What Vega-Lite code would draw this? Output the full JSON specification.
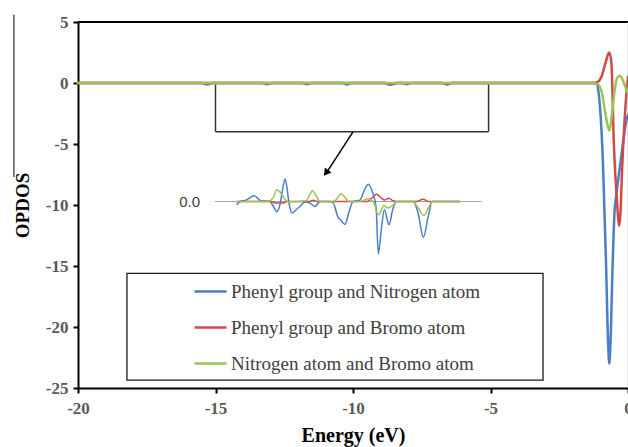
{
  "$schema": "https://vega.github.io/schema/vega-lite/v6.json",
  "width": 550,
  "height": 366,
  "autosize": {"type": "none"},
  "padding": {"left": 78, "top": 22, "right": 0, "bottom": 59},
  "background": "white",
  "config": {"view": {"stroke": null}},
  "datasets": {
    "main": [
      {"series": "Phenyl group and Nitrogen atom", "e": -20, "v": 0},
      {"series": "Phenyl group and Nitrogen atom", "e": -15.5, "v": 0},
      {"series": "Phenyl group and Nitrogen atom", "e": -15.3, "v": -0.12},
      {"series": "Phenyl group and Nitrogen atom", "e": -15.1, "v": 0},
      {"series": "Phenyl group and Nitrogen atom", "e": -13.3, "v": 0},
      {"series": "Phenyl group and Nitrogen atom", "e": -13.13, "v": -0.1},
      {"series": "Phenyl group and Nitrogen atom", "e": -12.95, "v": 0},
      {"series": "Phenyl group and Nitrogen atom", "e": -11.85, "v": 0},
      {"series": "Phenyl group and Nitrogen atom", "e": -11.67, "v": -0.1},
      {"series": "Phenyl group and Nitrogen atom", "e": -11.5, "v": 0},
      {"series": "Phenyl group and Nitrogen atom", "e": -10.4, "v": 0},
      {"series": "Phenyl group and Nitrogen atom", "e": -10.22, "v": -0.12},
      {"series": "Phenyl group and Nitrogen atom", "e": -10.05, "v": 0},
      {"series": "Phenyl group and Nitrogen atom", "e": -8.85, "v": 0},
      {"series": "Phenyl group and Nitrogen atom", "e": -8.65, "v": -0.15},
      {"series": "Phenyl group and Nitrogen atom", "e": -8.35, "v": 0},
      {"series": "Phenyl group and Nitrogen atom", "e": -8.2, "v": 0},
      {"series": "Phenyl group and Nitrogen atom", "e": -8.04, "v": -0.1},
      {"series": "Phenyl group and Nitrogen atom", "e": -7.9, "v": 0},
      {"series": "Phenyl group and Nitrogen atom", "e": -6.75, "v": 0},
      {"series": "Phenyl group and Nitrogen atom", "e": -6.58, "v": -0.12},
      {"series": "Phenyl group and Nitrogen atom", "e": -6.4, "v": 0},
      {"series": "Phenyl group and Nitrogen atom", "e": -1.3, "v": 0},
      {"series": "Phenyl group and Nitrogen atom", "e": -1.15, "v": -0.05},
      {"series": "Phenyl group and Nitrogen atom", "e": -1.08, "v": -0.6},
      {"series": "Phenyl group and Nitrogen atom", "e": -0.91, "v": -6.6},
      {"series": "Phenyl group and Nitrogen atom", "e": -0.8, "v": -14.7},
      {"series": "Phenyl group and Nitrogen atom", "e": -0.72, "v": -21.5},
      {"series": "Phenyl group and Nitrogen atom", "e": -0.68, "v": -23.0},
      {"series": "Phenyl group and Nitrogen atom", "e": -0.64, "v": -21.5},
      {"series": "Phenyl group and Nitrogen atom", "e": -0.56, "v": -15.0},
      {"series": "Phenyl group and Nitrogen atom", "e": -0.48, "v": -10.2},
      {"series": "Phenyl group and Nitrogen atom", "e": -0.45, "v": -9.6},
      {"series": "Phenyl group and Nitrogen atom", "e": -0.3, "v": -7.0},
      {"series": "Phenyl group and Nitrogen atom", "e": -0.05, "v": -3.0},
      {"series": "Phenyl group and Nitrogen atom", "e": 0, "v": -2.6},
      {"series": "Phenyl group and Bromo atom", "e": -20, "v": 0},
      {"series": "Phenyl group and Bromo atom", "e": -8.85, "v": 0},
      {"series": "Phenyl group and Bromo atom", "e": -8.65, "v": -0.08},
      {"series": "Phenyl group and Bromo atom", "e": -8.45, "v": 0},
      {"series": "Phenyl group and Bromo atom", "e": -6.75, "v": 0},
      {"series": "Phenyl group and Bromo atom", "e": -6.58, "v": -0.08},
      {"series": "Phenyl group and Bromo atom", "e": -6.4, "v": 0},
      {"series": "Phenyl group and Bromo atom", "e": -1.3, "v": 0},
      {"series": "Phenyl group and Bromo atom", "e": -1.1, "v": 0.1},
      {"series": "Phenyl group and Bromo atom", "e": -0.95, "v": 0.6},
      {"series": "Phenyl group and Bromo atom", "e": -0.8, "v": 1.8},
      {"series": "Phenyl group and Bromo atom", "e": -0.69, "v": 2.5},
      {"series": "Phenyl group and Bromo atom", "e": -0.62, "v": 2.0},
      {"series": "Phenyl group and Bromo atom", "e": -0.58, "v": 0.5},
      {"series": "Phenyl group and Bromo atom", "e": -0.53, "v": -3.9},
      {"series": "Phenyl group and Bromo atom", "e": -0.41, "v": -9.3},
      {"series": "Phenyl group and Bromo atom", "e": -0.32, "v": -11.7},
      {"series": "Phenyl group and Bromo atom", "e": -0.27, "v": -10.5},
      {"series": "Phenyl group and Bromo atom", "e": -0.23, "v": -8.0},
      {"series": "Phenyl group and Bromo atom", "e": -0.11, "v": -2.5},
      {"series": "Phenyl group and Bromo atom", "e": 0, "v": 0.5},
      {"series": "Nitrogen atom and Bromo atom", "e": -20, "v": 0},
      {"series": "Nitrogen atom and Bromo atom", "e": -1.3, "v": 0},
      {"series": "Nitrogen atom and Bromo atom", "e": -1.1, "v": -0.1},
      {"series": "Nitrogen atom and Bromo atom", "e": -0.95, "v": -0.8},
      {"series": "Nitrogen atom and Bromo atom", "e": -0.8, "v": -2.8},
      {"series": "Nitrogen atom and Bromo atom", "e": -0.68, "v": -3.9},
      {"series": "Nitrogen atom and Bromo atom", "e": -0.58, "v": -2.5},
      {"series": "Nitrogen atom and Bromo atom", "e": -0.48, "v": -0.5},
      {"series": "Nitrogen atom and Bromo atom", "e": -0.4, "v": 0.4},
      {"series": "Nitrogen atom and Bromo atom", "e": -0.3, "v": 0.6},
      {"series": "Nitrogen atom and Bromo atom", "e": -0.2, "v": 0.3},
      {"series": "Nitrogen atom and Bromo atom", "e": -0.1, "v": -0.3},
      {"series": "Nitrogen atom and Bromo atom", "e": 0, "v": -0.8}
    ],
    "inset": [
      {"series": "Phenyl group and Nitrogen atom", "e": -14.23, "v": -9.98},
      {"series": "Phenyl group and Nitrogen atom", "e": -14.11, "v": -9.71},
      {"series": "Phenyl group and Nitrogen atom", "e": -13.89, "v": -9.6},
      {"series": "Phenyl group and Nitrogen atom", "e": -13.59, "v": -9.25},
      {"series": "Phenyl group and Nitrogen atom", "e": -13.35, "v": -9.65},
      {"series": "Phenyl group and Nitrogen atom", "e": -13.02, "v": -9.71},
      {"series": "Phenyl group and Nitrogen atom", "e": -12.9, "v": -10.1},
      {"series": "Phenyl group and Nitrogen atom", "e": -12.77, "v": -10.53},
      {"series": "Phenyl group and Nitrogen atom", "e": -12.65, "v": -9.9},
      {"series": "Phenyl group and Nitrogen atom", "e": -12.58, "v": -9.0},
      {"series": "Phenyl group and Nitrogen atom", "e": -12.47, "v": -7.86},
      {"series": "Phenyl group and Nitrogen atom", "e": -12.4, "v": -8.6},
      {"series": "Phenyl group and Nitrogen atom", "e": -12.33, "v": -9.8},
      {"series": "Phenyl group and Nitrogen atom", "e": -12.21, "v": -10.66},
      {"series": "Phenyl group and Nitrogen atom", "e": -12.05, "v": -10.35},
      {"series": "Phenyl group and Nitrogen atom", "e": -11.93, "v": -10.12},
      {"series": "Phenyl group and Nitrogen atom", "e": -11.75, "v": -9.75},
      {"series": "Phenyl group and Nitrogen atom", "e": -11.56, "v": -9.85},
      {"series": "Phenyl group and Nitrogen atom", "e": -11.38, "v": -10.12},
      {"series": "Phenyl group and Nitrogen atom", "e": -11.2, "v": -9.72},
      {"series": "Phenyl group and Nitrogen atom", "e": -10.9, "v": -9.72},
      {"series": "Phenyl group and Nitrogen atom", "e": -10.73, "v": -9.8},
      {"series": "Phenyl group and Nitrogen atom", "e": -10.53, "v": -11.07},
      {"series": "Phenyl group and Nitrogen atom", "e": -10.47, "v": -11.18},
      {"series": "Phenyl group and Nitrogen atom", "e": -10.29, "v": -11.59},
      {"series": "Phenyl group and Nitrogen atom", "e": -10.15, "v": -10.6},
      {"series": "Phenyl group and Nitrogen atom", "e": -10.0, "v": -9.71},
      {"series": "Phenyl group and Nitrogen atom", "e": -9.75, "v": -9.6},
      {"series": "Phenyl group and Nitrogen atom", "e": -9.55, "v": -8.6},
      {"series": "Phenyl group and Nitrogen atom", "e": -9.44, "v": -8.29},
      {"series": "Phenyl group and Nitrogen atom", "e": -9.3, "v": -8.9},
      {"series": "Phenyl group and Nitrogen atom", "e": -9.16, "v": -10.2},
      {"series": "Phenyl group and Nitrogen atom", "e": -9.08, "v": -14.01},
      {"series": "Phenyl group and Nitrogen atom", "e": -8.97, "v": -12.0},
      {"series": "Phenyl group and Nitrogen atom", "e": -8.86, "v": -10.39},
      {"series": "Phenyl group and Nitrogen atom", "e": -8.69, "v": -11.62},
      {"series": "Phenyl group and Nitrogen atom", "e": -8.55, "v": -10.3},
      {"series": "Phenyl group and Nitrogen atom", "e": -8.41, "v": -9.71},
      {"series": "Phenyl group and Nitrogen atom", "e": -7.81, "v": -9.71},
      {"series": "Phenyl group and Nitrogen atom", "e": -7.64, "v": -10.6},
      {"series": "Phenyl group and Nitrogen atom", "e": -7.44, "v": -12.65},
      {"series": "Phenyl group and Nitrogen atom", "e": -7.27, "v": -11.0},
      {"series": "Phenyl group and Nitrogen atom", "e": -7.12, "v": -9.71},
      {"series": "Phenyl group and Nitrogen atom", "e": -6.11, "v": -9.71},
      {"series": "Phenyl group and Bromo atom", "e": -14.23, "v": -9.71},
      {"series": "Phenyl group and Bromo atom", "e": -13.0, "v": -9.71},
      {"series": "Phenyl group and Bromo atom", "e": -12.8, "v": -9.84},
      {"series": "Phenyl group and Bromo atom", "e": -12.55, "v": -9.84},
      {"series": "Phenyl group and Bromo atom", "e": -12.4, "v": -9.71},
      {"series": "Phenyl group and Bromo atom", "e": -11.6, "v": -9.71},
      {"series": "Phenyl group and Bromo atom", "e": -11.45, "v": -9.62},
      {"series": "Phenyl group and Bromo atom", "e": -11.3, "v": -9.71},
      {"series": "Phenyl group and Bromo atom", "e": -9.5, "v": -9.71},
      {"series": "Phenyl group and Bromo atom", "e": -9.3, "v": -9.4},
      {"series": "Phenyl group and Bromo atom", "e": -9.14, "v": -9.11},
      {"series": "Phenyl group and Bromo atom", "e": -8.98, "v": -9.4},
      {"series": "Phenyl group and Bromo atom", "e": -8.85, "v": -9.6},
      {"series": "Phenyl group and Bromo atom", "e": -8.7, "v": -9.44},
      {"series": "Phenyl group and Bromo atom", "e": -8.55, "v": -9.65},
      {"series": "Phenyl group and Bromo atom", "e": -8.41, "v": -9.71},
      {"series": "Phenyl group and Bromo atom", "e": -7.7, "v": -9.71},
      {"series": "Phenyl group and Bromo atom", "e": -7.45, "v": -9.52},
      {"series": "Phenyl group and Bromo atom", "e": -7.25, "v": -9.71},
      {"series": "Phenyl group and Bromo atom", "e": -6.11, "v": -9.71},
      {"series": "Nitrogen atom and Bromo atom", "e": -14.23, "v": -9.71},
      {"series": "Nitrogen atom and Bromo atom", "e": -13.1, "v": -9.71},
      {"series": "Nitrogen atom and Bromo atom", "e": -12.9, "v": -9.4},
      {"series": "Nitrogen atom and Bromo atom", "e": -12.77, "v": -8.76},
      {"series": "Nitrogen atom and Bromo atom", "e": -12.6, "v": -9.1},
      {"series": "Nitrogen atom and Bromo atom", "e": -12.45, "v": -9.6},
      {"series": "Nitrogen atom and Bromo atom", "e": -12.33, "v": -9.75},
      {"series": "Nitrogen atom and Bromo atom", "e": -12.0, "v": -9.71},
      {"series": "Nitrogen atom and Bromo atom", "e": -11.7, "v": -9.65},
      {"series": "Nitrogen atom and Bromo atom", "e": -11.56, "v": -9.1},
      {"series": "Nitrogen atom and Bromo atom", "e": -11.47, "v": -8.84},
      {"series": "Nitrogen atom and Bromo atom", "e": -11.35, "v": -9.2},
      {"series": "Nitrogen atom and Bromo atom", "e": -11.2, "v": -9.71},
      {"series": "Nitrogen atom and Bromo atom", "e": -10.75, "v": -9.71},
      {"series": "Nitrogen atom and Bromo atom", "e": -10.55, "v": -9.4},
      {"series": "Nitrogen atom and Bromo atom", "e": -10.45, "v": -9.05},
      {"series": "Nitrogen atom and Bromo atom", "e": -10.3, "v": -9.35},
      {"series": "Nitrogen atom and Bromo atom", "e": -10.15, "v": -9.71},
      {"series": "Nitrogen atom and Bromo atom", "e": -9.75, "v": -9.71},
      {"series": "Nitrogen atom and Bromo atom", "e": -9.44, "v": -9.48},
      {"series": "Nitrogen atom and Bromo atom", "e": -9.25, "v": -9.75},
      {"series": "Nitrogen atom and Bromo atom", "e": -9.08, "v": -10.8},
      {"series": "Nitrogen atom and Bromo atom", "e": -8.86, "v": -10.04},
      {"series": "Nitrogen atom and Bromo atom", "e": -8.72, "v": -10.25},
      {"series": "Nitrogen atom and Bromo atom", "e": -8.55, "v": -10.0},
      {"series": "Nitrogen atom and Bromo atom", "e": -8.41, "v": -9.71},
      {"series": "Nitrogen atom and Bromo atom", "e": -7.81, "v": -9.71},
      {"series": "Nitrogen atom and Bromo atom", "e": -7.64, "v": -10.2},
      {"series": "Nitrogen atom and Bromo atom", "e": -7.42, "v": -10.86},
      {"series": "Nitrogen atom and Bromo atom", "e": -7.25, "v": -10.2},
      {"series": "Nitrogen atom and Bromo atom", "e": -7.12, "v": -9.71},
      {"series": "Nitrogen atom and Bromo atom", "e": -6.11, "v": -9.71}
    ]
  },
  "encoding": {
    "x": {
      "type": "quantitative",
      "scale": {"domain": [-20, 0], "nice": false, "zero": false},
      "axis": {
        "title": "Energy (eV)",
        "values": [-20, -15, -10, -5, 0],
        "labelExpr": "'' + datum.value",
        "grid": false,
        "domainColor": "#000", "domainWidth": 2,
        "tickColor": "#000", "tickWidth": 2, "tickSize": 5,
        "labelFont": "Liberation Serif", "labelFontWeight": "bold", "labelFontSize": 17, "labelColor": "#595959",
        "labelPadding": 7, "labelFlush": false, "labelOverlap": false,
        "titleFont": "Liberation Serif", "titleFontSize": 20, "titleFontWeight": "bold", "titleColor": "#000",
        "titlePadding": 9
      }
    },
    "y": {
      "type": "quantitative",
      "scale": {"domain": [-25, 5], "nice": false, "zero": false},
      "axis": {
        "title": "OPDOS",
        "values": [5, 0, -5, -10, -15, -20, -25],
        "labelExpr": "'' + datum.value",
        "grid": false,
        "domainColor": "#000", "domainWidth": 2,
        "tickColor": "#000", "tickWidth": 2, "tickSize": 5,
        "labelFont": "Liberation Serif", "labelFontWeight": "bold", "labelFontSize": 17, "labelColor": "#595959",
        "labelPadding": 5, "labelFlush": false, "labelOverlap": false,
        "titleFont": "Liberation Serif", "titleFontSize": 19, "titleFontWeight": "bold", "titleColor": "#000",
        "titlePadding": 13
      }
    }
  },
  "layer": [
    {
      "data": {"values": [{}]},
      "mark": {"type": "rule", "color": "#000", "strokeWidth": 2},
      "encoding": {"y": {"datum": 5}}
    },
    {
      "data": {"values": [{}]},
      "mark": {"type": "rule", "color": "#d0d0d0", "strokeWidth": 1},
      "encoding": {"x": {"datum": 0}}
    },
    {
      "data": {"values": [{}]},
      "mark": {"type": "rule", "color": "#000", "strokeWidth": 1},
      "encoding": {"x": {"datum": -22.33}, "y": {"datum": 5.6}, "y2": {"datum": -7.7}}
    },
    {
      "data": {"values": [{}]},
      "mark": {"type": "rect", "filled": false, "stroke": "#1a1a1a", "strokeWidth": 1.3},
      "encoding": {"x": {"datum": -18.22}, "x2": {"datum": -3.09}, "y": {"datum": -15.6}, "y2": {"datum": -24.35}}
    },
    {
      "data": {"values": [{}]},
      "mark": {"type": "rule", "color": "#333", "strokeWidth": 1.5},
      "encoding": {"x": {"datum": -15.0}, "y": {"datum": -0.1}, "y2": {"datum": -4.0}}
    },
    {
      "data": {"values": [{}]},
      "mark": {"type": "rule", "color": "#333", "strokeWidth": 1.5},
      "encoding": {"x": {"datum": -5.07}, "y": {"datum": -0.1}, "y2": {"datum": -4.0}}
    },
    {
      "data": {"values": [{}]},
      "mark": {"type": "rule", "color": "#333", "strokeWidth": 1.5},
      "encoding": {"x": {"datum": -15.0}, "x2": {"datum": -5.07}, "y": {"datum": -4.0}}
    },
    {
      "data": {"values": [{}]},
      "mark": {"type": "rule", "color": "#000", "strokeWidth": 1.5},
      "encoding": {"x": {"datum": -10.0}, "x2": {"datum": -10.95}, "y": {"datum": -4.0}, "y2": {"datum": -7.3}}
    },
    {
      "data": {"values": [{}]},
      "mark": {"type": "point", "shape": "triangle-up", "filled": true, "color": "#000", "size": 70, "angle": 217, "opacity": 1},
      "encoding": {"x": {"datum": -10.98}, "y": {"datum": -7.37}}
    },
    {
      "data": {"values": [{}]},
      "mark": {"type": "rule", "color": "#a6a6a6", "strokeWidth": 1.2},
      "encoding": {"x": {"datum": -15.02}, "x2": {"datum": -5.31}, "y": {"datum": -9.714}}
    },
    {
      "data": {"values": [{}]},
      "mark": {"type": "text", "text": "0.0", "align": "right", "baseline": "middle", "font": "Liberation Sans", "fontSize": 15, "color": "#404040"},
      "encoding": {"x": {"datum": -15.56}, "y": {"datum": -9.714}}
    },
    {
      "data": {"name": "main"},
      "mark": {"type": "line", "strokeWidth": 2.5, "interpolate": "monotone", "strokeJoin": "round", "strokeCap": "round"},
      "encoding": {
        "x": {"field": "e", "type": "quantitative"},
        "y": {"field": "v", "type": "quantitative"},
        "color": {
          "field": "series", "type": "nominal",
          "scale": {
            "domain": ["Phenyl group and Nitrogen atom", "Phenyl group and Bromo atom", "Nitrogen atom and Bromo atom"],
            "range": ["#4A7EC7", "#D04B48", "#9BC450"]
          },
          "legend": {
            "orient": "none", "legendX": 115, "legendY": 252, "title": null,
            "symbolType": "stroke", "symbolSize": 1024, "symbolStrokeWidth": 2.5,
            "labelFont": "Liberation Serif", "labelFontSize": 19, "labelColor": "#404040",
            "labelOffset": 3, "rowPadding": 8, "padding": 0, "labelLimit": 400
          }
        }
      }
    },
    {
      "data": {"name": "inset"},
      "mark": {"type": "line", "strokeWidth": 1.5, "interpolate": "monotone", "strokeJoin": "round"},
      "encoding": {
        "x": {"field": "e", "type": "quantitative"},
        "y": {"field": "v", "type": "quantitative"},
        "color": {"field": "series", "type": "nominal"}
      }
    }
  ]
}
